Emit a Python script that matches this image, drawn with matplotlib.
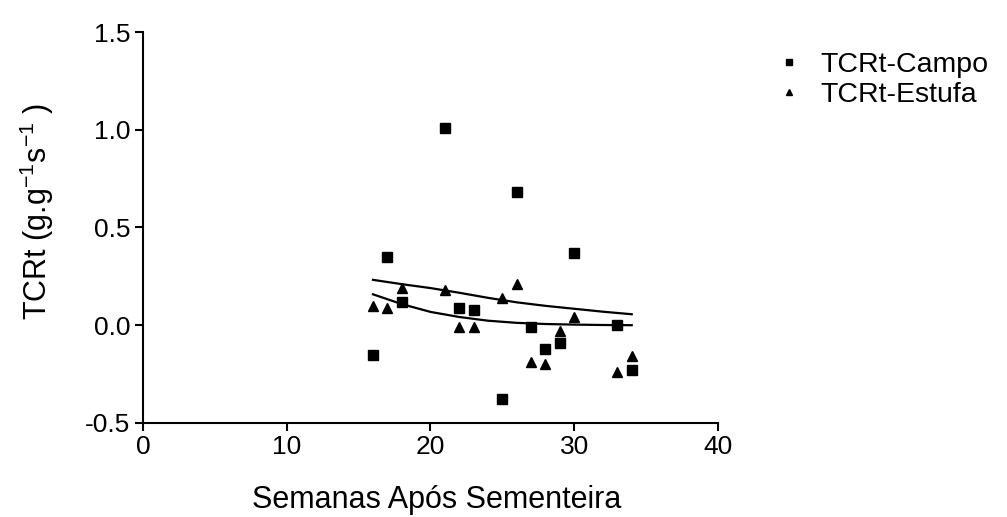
import matplotlib
matplotlib.use("Agg")
import matplotlib.pyplot as plt

plt.rcParams['font.family'] = ['Liberation Sans', 'DejaVu Sans']
plt.rcParams['mathtext.default'] = 'regular'

# semanas após sementeira
semanas = [16, 17, 18, 21, 22, 23, 25, 26, 27, 28, 29, 30, 33, 34]

# pontos medidos
campo = [-0.15, 0.35, 0.12, 1.01, 0.09, 0.08, -0.38, 0.68, -0.01, -0.12, -0.09, 0.37, 0.00, -0.23]
estufa = [0.10, 0.09, 0.19, 0.18, -0.01, -0.01, 0.14, 0.21, -0.19, -0.20, -0.03, 0.04, -0.24, -0.16]

# curvas ajustadas
curva_x = [16, 18, 20, 22, 24, 26, 28, 30, 32, 34]
curva_sup = [0.232, 0.210, 0.190, 0.166, 0.140, 0.117, 0.099, 0.084, 0.069, 0.056]
curva_inf = [0.158, 0.108, 0.068, 0.042, 0.023, 0.012, 0.006, 0.003, 0.001, 0.000]

fig = plt.figure(figsize=(10.07, 5.17), dpi=100)
ax = fig.add_axes([0.142, 0.182, 0.571, 0.756])

ax.plot(semanas, campo, 's', color='black', markersize=6.5, label='TCRt-Campo', linestyle='none')
ax.plot(semanas, estufa, '^', color='black', markersize=6.5, label='TCRt-Estufa', linestyle='none')
ax.plot(curva_x, curva_sup, '-', color='black', linewidth=1.6)
ax.plot(curva_x, curva_inf, '-', color='black', linewidth=1.6)

ax.set_xlim(0, 40)
ax.set_ylim(-0.5, 1.5)
ax.set_xticks([0, 10, 20, 30, 40])
ax.set_yticks([-0.5, 0.0, 0.5, 1.0, 1.5])
ax.set_yticklabels(['-0.5', '0.0', '0.5', '1.0', '1.5'])

for s in ['top', 'right']:
    ax.spines[s].set_visible(False)
for s in ['left', 'bottom']:
    ax.spines[s].set_linewidth(1.5)

ax.tick_params(direction='out', length=6, width=1.5, labelsize=19, pad=3)

ax.set_xlabel('Semanas Após Sementeira', fontsize=22)
ax.xaxis.set_label_coords(0.51, -0.158)
ax.set_ylabel(r'TCRt (g.g$^{-1}$s$^{-1}$ )', fontsize=22)
ax.yaxis.set_label_coords(-0.152, 0.54)

leg = ax.legend(loc='upper left', bbox_to_anchor=(0.761, 0.922), bbox_transform=fig.transFigure,
                frameon=False, fontsize=20.5, handlelength=0.8, handletextpad=0.7,
                markerscale=0.65, labelspacing=0.15, borderaxespad=0)

fig.savefig('out.png', dpi=100)
